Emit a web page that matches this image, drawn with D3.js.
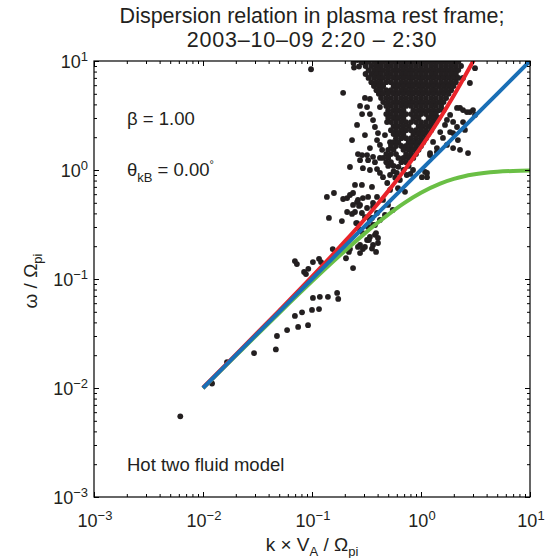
<!DOCTYPE html>
<html>
<head>
<meta charset="utf-8">
<script src="https://cdn.jsdelivr.net/npm/d3@7"></script>
<style>
  body { margin: 0; background: #fff; }
  text { font-family: "Liberation Sans", Arial, Helvetica, sans-serif; fill: #231f20; }
</style>
</head>
<body>
<svg id="chart" width="552" height="558"></svg>
<script>
// data ===================================================================

// wavenumber samples for the model curves
var curveK = [0.01, 0.02, 0.05, 0.1, 0.15, 0.2, 0.3, 0.4, 0.5, 0.7, 1, 1.5, 2, 2.5, 3, 5, 7, 10];
// blue: Alfven branch
var alfvenW = [0.01, 0.02, 0.05, 0.1, 0.15, 0.2, 0.3, 0.4, 0.5, 0.7, 1, 1.5, 2, 2.5, 3, 5, 7, 10];
// red: fast / whistler branch
var whistlerW = [0.01005, 0.0202, 0.0513, 0.1051, 0.1617, 0.221, 0.348, 0.488, 0.640, 0.987, 1.618, 3.0, 4.83, 7.13, 9.91, 25.9, 50, 101];
// green: ion cyclotron branch
var cyclotronW = [0.00995, 0.0198, 0.0488, 0.0951, 0.1392, 0.181, 0.258, 0.328, 0.390, 0.497, 0.618, 0.75, 0.828, 0.877, 0.908, 0.963, 0.981, 0.990];

// measured points, dense part: [omega, [k, k, ...]]
var denseRows = [
  [10.6, [0.31,0.35,0.39,0.43,0.48,0.53,0.59,0.66,0.73,0.81,0.90,1.0,1.11,1.24,1.37,1.53,1.70,1.89,2.09,2.33]],
  [9.8,  [0.30,0.33,0.37,0.41,0.45,0.50,0.56,0.62,0.69,0.77,0.85,0.95,1.05,1.17,1.30,1.45,1.61,1.79,1.99,2.20]],
  [9.0,  [0.31,0.35,0.39,0.43,0.48,0.53,0.59,0.66,0.73,0.81,0.90,1.0,1.11,1.24,1.37,1.53,1.70,1.89,2.09,2.33]],
  [8.25, [0.33,0.37,0.41,0.45,0.50,0.56,0.62,0.69,0.77,0.85,0.95,1.05,1.17,1.30,1.45,1.61,1.79,1.99,2.20]],
  [7.6,  [0.31,0.35,0.39,0.43,0.48,0.53,0.59,0.66,0.73,0.81,0.90,1.0,1.11,1.24,1.37,1.53,1.70,1.89,2.09]],
  [7.0,  [0.33,0.37,0.41,0.45,0.50,0.56,0.62,0.69,0.77,0.85,0.95,1.05,1.17,1.30,1.45,1.61,1.79,1.99,2.20]],
  [6.4,  [0.35,0.39,0.43,0.48,0.53,0.59,0.66,0.73,0.81,0.90,1.0,1.11,1.24,1.37,1.53,1.70,1.89,2.09]],
  [5.9,  [0.37,0.41,0.45,0.56,0.62,0.69,0.77,0.85,0.95,1.05,1.17,1.30,1.45,1.61,1.79,1.99]],
  [5.4,  [0.39,0.43,0.48,0.53,0.59,0.66,0.73,0.81,0.90,1.0,1.11,1.24,1.37,1.53,1.70,1.89]],
  [5.0,  [0.41,0.45,0.50,0.56,0.62,0.69,0.77,0.85,0.95,1.05,1.17,1.30,1.45,1.61,1.79]],
  [4.57, [0.43,0.48,0.53,0.59,0.66,0.73,0.81,0.90,1.0,1.11,1.24,1.37,1.53,1.70]],
  [4.2,  [0.45,0.50,0.56,0.62,0.69,0.77,0.85,0.95,1.05,1.17,1.30,1.45,1.61]],
  [3.87, [0.48,0.53,0.59,0.66,0.73,0.81,0.90,1.0,1.11,1.24,1.37,1.53]],
  [3.54, [0.50,0.56,0.62,0.69,0.85,0.95,1.05,1.17,1.30,1.45,1.61]],
  [3.26, [0.48,0.53,0.59,0.66,0.73,0.81,0.90,1.0,1.11,1.24,1.37]],
  [3.0,  [0.50,0.56,0.62,0.69,0.85,0.95,1.17,1.30,1.45]],
  [2.75, [0.53,0.59,0.66,0.73,0.81,0.90,1.0,1.11,1.24,1.37]],
  [2.53, [0.56,0.62,0.69,0.77,0.95,1.05,1.17,1.30]],
  [2.32, [0.53,0.59,0.66,0.73,0.81,0.90,1.0,1.11,1.24]],
  [2.14, [0.56,0.62,0.69,0.85,0.95,1.05,1.17]],
  [1.96, [0.59,0.66,0.73,0.81,0.90,1.0,1.11]],
  [1.80, [0.56,0.62,0.77,0.85,0.95,1.05]],
  [1.66, [0.53,0.59,0.66,0.73,0.81,0.90,1.0]],
  [1.53, [0.50,0.56,0.69,0.77,0.85,0.95]],
  [1.40, [0.48,0.53,0.59,0.73,0.81,0.90]],
  [1.29, [0.45,0.50,0.62,0.69,0.77,0.85]],
  [1.18, [0.48,0.53,0.66,0.73]]
];

// measured points, scattered part: [k, omega]
var sparsePoints = [
  [0.098,8.4],[0.243,8.7],[0.27,8.9],[0.24,9.6],[0.26,10.2],[0.285,9.7],[0.193,5.1],[0.306,4.58],[0.34,4.49],
  [0.276,3.87],[0.32,3.78],[0.42,3.78],[0.288,3.26],[0.34,3.26],[0.363,2.87],[0.488,2.75],[0.378,2.48],
  [0.403,2.18],[0.467,2.09],[0.395,1.88],[0.42,1.70],[0.52,1.80],[0.264,1.40],[0.288,1.37],[0.32,1.37],
  [0.327,1.23],[0.363,1.32],[0.42,1.29],[0.259,2.59],[0.306,2.09],[0.34,1.59],[0.276,1.23],[0.378,1.18],
  [0.44,1.53],[0.233,1.88],
  [3.13,8.6],[2.43,6.98],[2.81,6.28],[2.28,3.71],[2.43,3.55],[2.81,3.4],[3.13,3.2],[2.14,3.71],[2.64,3.4],
  [3.0,3.55],[1.97,2.76],[2.43,2.75],[2.14,2.48],[1.85,2.23],[1.97,2.18],[1.59,1.97],[1.73,1.70],[1.97,1.59],
  [2.28,1.53],[2.70,1.43],[1.29,1.81],[1.40,1.59],[1.21,1.37],[1.21,1.43],[1.40,1.46],[1.09,0.96],[1.135,0.86],
  [1.85,3.2],[1.66,2.59],[1.5,2.23],[1.73,2.88],[2.53,2.33],[2.18,1.88],
  [0.74,0.90],[0.845,1.0],[1.02,0.86],[1.135,0.94],
  [0.50,1.09],[0.56,1.09],[0.62,1.07],[0.77,1.09],[0.69,1.0],[0.56,0.97],[0.80,0.92],[0.58,0.85],
  [0.223,1.065],[0.293,1.04],[0.34,1.0],[0.395,1.02],[0.42,0.94],[0.448,0.86],[0.52,0.90],[0.60,0.94],
  [0.64,0.81],[0.49,0.76],[0.248,0.73],[0.287,0.73],[0.355,0.70],[0.52,0.656],[0.615,0.68],[0.713,0.63],
  [0.159,0.615],[0.21,0.553],[0.238,0.615],[0.264,0.531],[0.293,0.553],[0.327,0.566],[0.395,0.566],[0.448,0.531],
  [0.276,0.478],[0.248,0.412],[0.21,0.412],[0.32,0.448],[0.363,0.458],[0.188,0.34],[0.306,0.37],[0.355,0.363],
  [0.42,0.348],[0.327,0.30],[0.363,0.313],[0.293,0.264],[0.34,0.243],[0.378,0.254],[0.403,0.238],[0.32,0.228],
  [0.276,0.205],[0.306,0.197],[0.363,0.205],[0.355,0.19],
  [0.143,0.363],[0.233,0.395],[0.259,0.508],[0.27,0.468],[0.287,0.403],[0.254,0.326],[0.363,0.498],[0.395,0.403],
  [0.34,0.348],[0.378,0.313],[0.387,0.264],[0.155,0.188],[0.188,0.197],[0.205,0.155],[0.223,0.188],[0.264,0.197],
  [0.293,0.188],[0.333,0.228],[0.403,0.214],[0.387,0.177],[0.238,0.126],
  [0.137,0.566],[0.193,0.542],[0.223,0.59],[0.238,0.478],[0.259,0.326],[0.276,0.282],[0.218,0.177],[0.276,0.173],
  [0.498,0.478],[0.55,0.43],[0.467,0.387],
  [0.0697,0.146],[0.0727,0.137],[0.0846,0.116],[0.088,0.111],[0.0925,0.124],[0.102,0.143],[0.116,0.153],[0.121,0.143],
  [0.102,0.067],[0.118,0.0686],[0.14,0.0686],[0.17,0.0745],[0.174,0.0657],[0.1,0.052],[0.116,0.053],[0.081,0.0495],
  [0.0697,0.0458],[0.0746,0.0363],[0.092,0.0377],[0.0591,0.034],[0.0477,0.030],[0.0466,0.0226],[0.0294,0.0209],
  [0.0166,0.0173],[0.0121,0.011],[0.00619,0.0055]
];

var majorTicks = [1e-3, 1e-2, 1e-1, 1, 10];
var tickExponents = ["\u22123", "\u22122", "\u22121", "0", "1"];

// layout =================================================================

var svg = d3.select("#chart");
var plotL = 94, plotR = 530, plotT = 61, plotB = 497;

var x = d3.scaleLog().domain([1e-3, 10]).range([plotL, plotR]);
var y = d3.scaleLog().domain([1e-3, 10]).range([plotB, plotT]);

svg.append("clipPath").attr("id", "plotclip")
  .append("rect")
  .attr("x", plotL).attr("y", plotT)
  .attr("width", plotR - plotL).attr("height", plotB - plotT);

var plot = svg.append("g").attr("clip-path", "url(#plotclip)");

// dots
var points = sparsePoints.concat(
  denseRows.flatMap(function(r) { return r[1].map(function(k) { return [k, r[0]]; }); }));

plot.append("g").selectAll("circle")
  .data(points)
  .enter().append("circle")
  .attr("cx", function(d) { return x(d[0]); })
  .attr("cy", function(d) { return y(d[1]); })
  .attr("r", 2.9)
  .attr("fill", "#231f20");

// model curves
var line = d3.line()
  .x(function(d) { return x(d[0]); })
  .y(function(d) { return y(d[1]); })
  .curve(d3.curveMonotoneX);

function drawCurve(ws, color) {
  plot.append("path")
    .datum(curveK.map(function(k, i) { return [k, ws[i]]; }))
    .attr("d", line)
    .attr("fill", "none")
    .attr("stroke", color)
    .attr("stroke-width", 4);
}
drawCurve(cyclotronW, "#6abf45");
drawCurve(whistlerW, "#e9242a");
drawCurve(alfvenW, "#1a6fb6");

// axes (ticks inward, on all four sides)
var minorTicks = x.ticks().filter(function(v) {
  return !majorTicks.some(function(m) { return Math.abs(v / m - 1) < 1e-6; });
});

function axisPair(make, scale, tr) {
  [[majorTicks, 5], [minorTicks, 3]].forEach(function(t) {
    var g = svg.append("g").attr("transform", tr)
      .call(make(scale).tickValues(t[0]).tickSize(-t[1]).tickFormat(""));
    g.select(".domain").remove();
    g.selectAll("line").attr("stroke", "#000");
  });
}
axisPair(d3.axisBottom, x, "translate(0," + plotB + ")");
axisPair(d3.axisTop, x, "translate(0," + plotT + ")");
axisPair(d3.axisLeft, y, "translate(" + plotL + ",0)");
axisPair(d3.axisRight, y, "translate(" + plotR + ",0)");

svg.append("rect")
  .attr("x", plotL).attr("y", plotT)
  .attr("width", plotR - plotL).attr("height", plotB - plotT)
  .attr("fill", "none").attr("stroke", "#000").attr("stroke-width", 1.2);

// tick labels
majorTicks.forEach(function(v, i) {
  var tx = svg.append("text")
    .attr("x", x(v) + 1).attr("y", 527)
    .attr("text-anchor", "middle").attr("font-size", 18);
  tx.append("tspan").text("10");
  tx.append("tspan").attr("dy", -7).attr("font-size", 13).text(tickExponents[i]);

  var ty = svg.append("text")
    .attr("x", 88).attr("y", y(v) + 6.5)
    .attr("text-anchor", "end").attr("font-size", 18);
  ty.append("tspan").text("10");
  ty.append("tspan").attr("dy", -7).attr("font-size", 13).text(tickExponents[i]);
});

// axis labels
var xl = svg.append("text")
  .attr("x", 312).attr("y", 551)
  .attr("text-anchor", "middle").attr("font-size", 19);
xl.append("tspan").text("k \u00d7 V");
xl.append("tspan").attr("dy", 5).attr("font-size", 13).text("A");
xl.append("tspan").attr("dy", -5).text(" / \u03a9");
xl.append("tspan").attr("dy", 5).attr("font-size", 13).text("pi");

var yl = svg.append("text")
  .attr("transform", "translate(37,281) rotate(-90)")
  .attr("text-anchor", "middle").attr("font-size", 19);
yl.append("tspan").text("\u03c9 / \u03a9");
yl.append("tspan").attr("dy", 5).attr("font-size", 13).text("pi");

// title
svg.append("text").attr("x", 312).attr("y", 23)
  .attr("text-anchor", "middle").attr("font-size", 21.5)
  .text("Dispersion relation in plasma rest frame;");
svg.append("text").attr("x", 312).attr("y", 47)
  .attr("text-anchor", "middle").attr("font-size", 21.5)
  .attr("letter-spacing", 0.8)
  .text("2003\u201310\u201309 2:20 \u2013 2:30");

// annotations
svg.append("text").attr("x", 127).attr("y", 125).attr("font-size", 18.5)
  .text("\u03b2 = 1.00");

var th = svg.append("text").attr("x", 127).attr("y", 176).attr("font-size", 18.5);
th.append("tspan").text("\u03b8");
th.append("tspan").attr("dy", 6).attr("font-size", 13).text("kB");
th.append("tspan").attr("dy", -6).text(" = 0.00");
th.append("tspan").attr("dy", -8).attr("font-size", 11).text("\u00b0");

svg.append("text").attr("x", 127).attr("y", 471).attr("font-size", 18.5)
  .text("Hot two fluid model");
</script>
</body>
</html>
